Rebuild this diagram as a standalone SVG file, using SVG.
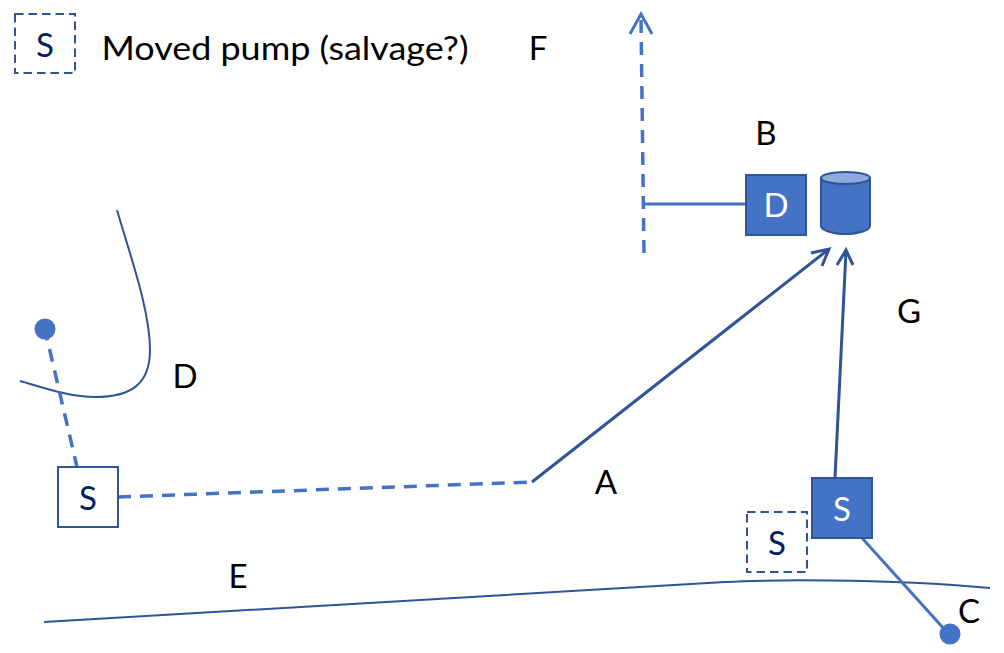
<svg xmlns="http://www.w3.org/2000/svg" width="1004" height="653" viewBox="0 0 1004 653">
<style>
text{font-family:Lato,"Open Sans","Liberation Sans",sans-serif;font-size:33px;fill:#000;text-anchor:middle}
.navy{fill:#002060}
.white{fill:#fff}
.box{fill:#4472c4;stroke:#2f5597;stroke-width:2}
.open{fill:#fff;stroke:#2f5597;stroke-width:2}
.moved{fill:#fff;stroke:#2f5597;stroke-width:2;stroke-dasharray:8.500 5}
.curve{fill:none;stroke:#2f5597;stroke-width:2}
.dark{fill:none;stroke:#2f5597;stroke-width:3}
.light{fill:none;stroke:#4472c4;stroke-width:3.500}
.thin{fill:none;stroke:#4472c4;stroke-width:3}
.dash{stroke-dasharray:13 9}
.dot{fill:#4472c4}
</style>
<g id="connectors">
<path class="curve" d="M117 210C130 255 150 310 150 350C150 385 130 397 95 397C70 397 45 388 20 381"/>
<path class="curve" d="M44 622L725 582C760 580 880 578 990 588"/>
<path class="light dash" d="M46 334L77 467" stroke-dashoffset="6.600"/>
<path class="light dash" d="M118 497L532 482"/>
<path class="dark" d="M532 482L829 249M811 253L829 249L822 266"/>
<path class="dark" d="M835 478L846 251M837 265L846 250L853 265"/>
<path class="light dash" d="M644 253L641 18"/>
<path class="thin" d="M630 34L641 14L652 34"/>
<path class="thin" d="M643 204H746"/>
<path class="thin" d="M862 538L945 630"/>
</g>
<g id="legend-pump"><rect class="moved" x="15" y="14" width="60" height="59"/><text class="navy" x="45" y="57">S</text></g>
<g id="legend-label"><text x="285" y="60" textLength="367" lengthAdjust="spacingAndGlyphs">Moved pump (salvage?)</text></g>
<g id="label-f"><text x="538" y="60">F</text></g>
<g id="label-b"><text x="766" y="145">B</text></g>
<g id="drain"><rect class="box" x="746" y="175" width="60" height="60"/><text class="white" x="776" y="217">D</text></g>
<g id="tank">
<path class="box" d="M821 178V226C821 230 832 234 845.500 234C859 234 870 230 870 226V178Z"/>
<ellipse cx="845.500" cy="178" rx="24.500" ry="6" fill="#8faadc" stroke="#2f5597" stroke-width="2"/>
</g>
<g id="label-g"><text x="909" y="323">G</text></g>
<g id="well-left"><circle class="dot" cx="45" cy="329" r="10.500"/></g>
<g id="label-d"><text x="185" y="388">D</text></g>
<g id="pump-left"><rect class="open" x="58" y="467" width="60" height="60"/><text class="navy" x="88" y="510">S</text></g>
<g id="label-a"><text x="606" y="494">A</text></g>
<g id="label-e"><text x="238" y="588">E</text></g>
<g id="pump-moved"><rect class="moved" x="747" y="512" width="60" height="60"/><text class="navy" x="777" y="555">S</text></g>
<g id="pump-right"><rect class="box" x="812" y="478" width="60" height="60"/><text class="white" x="842" y="521">S</text></g>
<g id="well-right"><circle class="dot" cx="950" cy="634" r="10.500"/></g>
<g id="label-c"><text x="969" y="623">C</text></g>
</svg>
